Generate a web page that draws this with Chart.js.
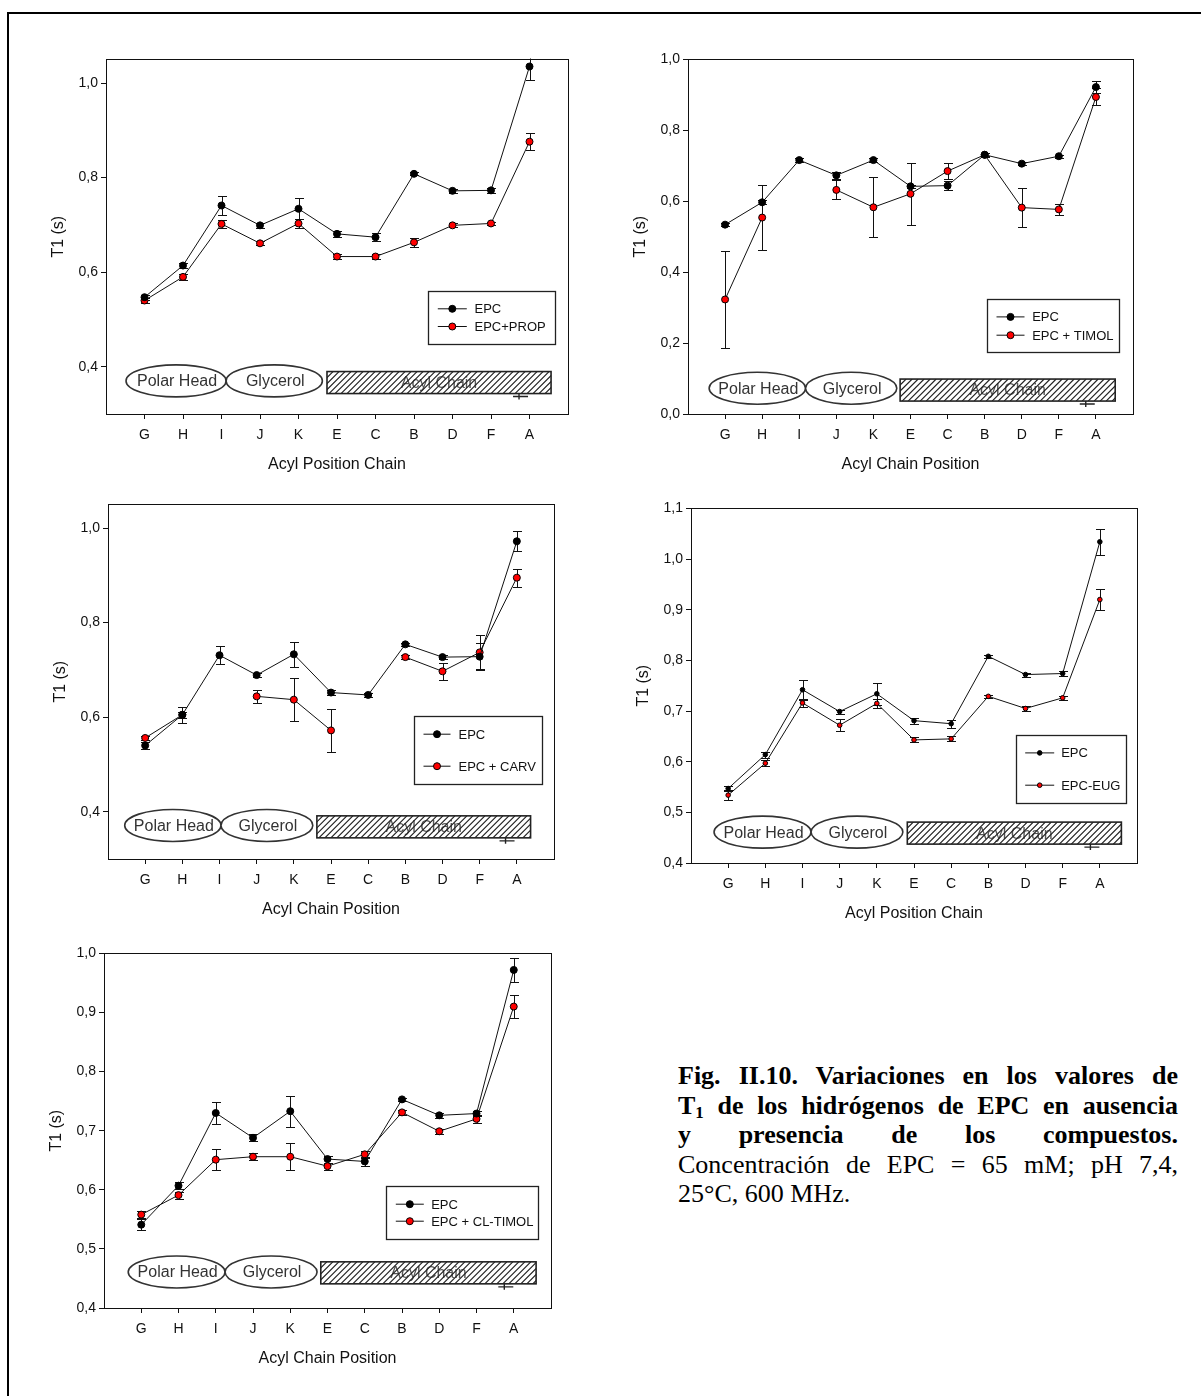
<!DOCTYPE html>
<html>
<head>
<meta charset="utf-8">
<script src="https://cdn.jsdelivr.net/npm/chart.js@4.4.1/dist/chart.umd.min.js"></script>
<style>
  html, body { margin: 0; padding: 0; background: #fff; }
  body { width: 1201px; height: 1396px; position: relative; overflow: hidden; }
  .rule-top { position: absolute; left: 7px; top: 12px; width: 1194px; height: 2px; background: #000; }
  .rule-left { position: absolute; left: 7px; top: 12px; width: 2px; height: 1384px; background: #000; }
  canvas.panel { position: absolute; }
  .caption { position: absolute; font-family: "Liberation Serif", "Times New Roman", serif; font-size: 26px; color: #000; }
  .caption .ln { height: 29.5px; line-height: 29.5px; white-space: normal; }
  .caption .jf { text-align: justify; text-align-last: justify; }
  .caption sub { font-size: 65%; line-height: 0; vertical-align: -0.25em; }
</style>
</head>
<body>
<div class="rule-top"></div>
<div class="rule-left"></div>

<canvas id="cProp" class="panel" width="532" height="431" style="left:46px;top:48px;"></canvas>
<canvas id="cTimol" class="panel" width="515" height="431" style="left:628px;top:48px;"></canvas>
<canvas id="cCarv" class="panel" width="516" height="431" style="left:48px;top:493px;"></canvas>
<canvas id="cEug" class="panel" width="516" height="431" style="left:631px;top:497px;"></canvas>
<canvas id="cClTimol" class="panel" width="517" height="431" style="left:44px;top:942px;"></canvas>

<div class="caption" style="left:678px;top:1061px;width:500px;">
  <div class="ln jf"><b>Fig. II.10. Variaciones en los valores de</b></div>
  <div class="ln jf"><b>T<sub>1</sub> de los hidrógenos de EPC en ausencia</b></div>
  <div class="ln jf"><b>y presencia de los compuestos.</b></div>
  <div class="ln jf">Concentración de EPC = 65 mM; pH 7,4,</div>
  <div class="ln">25°C, 600 MHz.</div>
</div>

<script>
// Proton positions along the EPC molecule
const positionLabels = ['G', 'H', 'I', 'J', 'K', 'E', 'C', 'B', 'D', 'F', 'A'];

// T1 (s): EPC alone vs EPC + PROP
const epcProp = [0.547, 0.614, 0.741, 0.699, 0.734, 0.681, 0.674, 0.808, 0.772, 0.773, 1.035];
const epcPropErr = [0.005, 0.006, 0.020, 0.005, 0.022, 0.006, 0.008, 0.003, 0.004, 0.005, 0.029];
const propT1 = [0.540, 0.590, 0.702, 0.661, 0.703, 0.633, 0.633, 0.663, 0.699, 0.703, 0.876];
const propT1Err = [0.006, 0.006, 0.008, 0.004, 0.009, 0.005, 0.005, 0.010, 0.004, 0.004, 0.018];

// T1 (s): EPC alone vs EPC + TIMOL
const epcTimol = [0.534, 0.597, 0.716, 0.673, 0.716, 0.642, 0.644, 0.731, 0.706, 0.727, 0.922];
const epcTimolErr = [0.005, 0.006, 0.005, 0.010, 0.006, 0.005, 0.012, 0.004, 0.004, 0.004, 0.018];
const timolT1 = [0.323, 0.554, null, 0.632, 0.583, 0.621, 0.685, 0.731, 0.582, 0.577, 0.894];
const timolT1Err = [0.137, 0.092, null, 0.027, 0.085, 0.088, 0.022, 0.006, 0.054, 0.015, 0.024];

// T1 (s): EPC alone vs EPC + CARV
const epcCarv = [0.540, 0.605, 0.731, 0.689, 0.733, 0.652, 0.647, 0.754, 0.727, 0.728, 0.972];
const epcCarvErr = [0.007, 0.017, 0.019, 0.005, 0.026, 0.005, 0.005, 0.003, 0.004, 0.028, 0.021];
const carvT1 = [0.556, 0.605, null, 0.644, 0.637, 0.572, null, 0.727, 0.697, 0.737, 0.895];
const carvT1Err = [0.005, 0.006, null, 0.014, 0.045, 0.045, null, 0.004, 0.018, 0.036, 0.019];

// T1 (s): EPC alone vs EPC-EUG
const epcEug = [0.547, 0.614, 0.742, 0.699, 0.734, 0.681, 0.675, 0.808, 0.772, 0.774, 1.034];
const epcEugErr = [0.005, 0.006, 0.020, 0.004, 0.022, 0.006, 0.008, 0.003, 0.004, 0.005, 0.026];
const eugT1 = [0.534, 0.597, 0.716, 0.672, 0.715, 0.643, 0.645, 0.729, 0.705, 0.726, 0.920];
const eugT1Err = [0.010, 0.006, 0.008, 0.012, 0.009, 0.005, 0.005, 0.003, 0.004, 0.004, 0.020];

// T1 (s): EPC alone vs EPC + CL-TIMOL
const epcClTimol = [0.541, 0.607, 0.730, 0.688, 0.733, 0.652, 0.648, 0.753, 0.726, 0.729, 0.972];
const epcClTimolErr = [0.009, 0.006, 0.019, 0.006, 0.026, 0.006, 0.008, 0.003, 0.004, 0.004, 0.021];
const clTimolT1 = [0.558, 0.591, 0.651, 0.656, 0.656, 0.640, 0.660, 0.731, 0.699, 0.720, 0.910];
const clTimolT1Err = [0.006, 0.006, 0.018, 0.006, 0.023, 0.006, 0.006, 0.004, 0.004, 0.007, 0.020];

// Y tick values per panel
const ticksProp = [0.4, 0.6, 0.8, 1.0];
const ticksTimol = [0.0, 0.2, 0.4, 0.6, 0.8, 1.0];
const ticksCarv = [0.4, 0.6, 0.8, 1.0];
const ticksEug = [0.4, 0.5, 0.6, 0.7, 0.8, 0.9, 1.0, 1.1];
const ticksClTimol = [0.4, 0.5, 0.6, 0.7, 0.8, 0.9, 1.0];

const FONT = '"Liberation Sans", Arial, sans-serif';
Chart.defaults.font.family = FONT;
Chart.defaults.color = '#111';

// Vertical error bars with caps, drawn under the markers
const errorBarPlugin = {
  id: 'errorBars',
  beforeDatasetsDraw(chart) {
    const { ctx, chartArea: a, scales: { y } } = chart;
    ctx.save();
    ctx.beginPath();
    ctx.rect(a.left, a.top - 1, a.right - a.left, a.bottom - a.top + 1);
    ctx.clip();
    ctx.strokeStyle = '#111';
    ctx.lineWidth = 1;
    chart.data.datasets.forEach((ds, di) => {
      const meta = chart.getDatasetMeta(di);
      (ds.errorBars || []).forEach((e, i) => {
        const v = ds.data[i].y;
        if (v == null || e == null) return;
        const px = Math.round(meta.data[i].x) + 0.5;
        const yt = Math.round(y.getPixelForValue(v + e)) + 0.5;
        const yb = Math.round(y.getPixelForValue(v - e)) + 0.5;
        const cap = 4.5;
        ctx.beginPath();
        ctx.moveTo(px, yt); ctx.lineTo(px, yb);
        ctx.moveTo(px - cap, yt); ctx.lineTo(px + cap, yt);
        ctx.moveTo(px - cap, yb); ctx.lineTo(px + cap, yb);
        ctx.stroke();
      });
    });
    ctx.restore();
  }
};

// Closed frame around the plotting area
const framePlugin = {
  id: 'frame',
  beforeDatasetsDraw(chart) {
    const { ctx, chartArea: a } = chart;
    ctx.save();
    ctx.strokeStyle = '#111';
    ctx.lineWidth = 1;
    ctx.strokeRect(Math.round(a.left) + 0.5, Math.round(a.top) + 0.5,
      Math.round(a.right - a.left), Math.round(a.bottom - a.top));
    ctx.restore();
  }
};

// Molecule sketch along the bottom: polar head, glycerol, hatched acyl chain
const regionsPlugin = {
  id: 'regions',
  beforeDatasetsDraw(chart, args, o) {
    const { ctx, scales: { x, y } } = chart;
    const ey = y.getPixelForValue(o.ellipseY);
    const ry = y.getPixelForValue(o.rectY);
    ctx.save();
    ctx.font = '16px ' + FONT;
    ctx.textAlign = 'center';
    ctx.textBaseline = 'middle';
    const oval = (span, label) => {
      const x0 = x.getPixelForValue(span[0]), x1 = x.getPixelForValue(span[1]);
      ctx.beginPath();
      ctx.ellipse((x0 + x1) / 2, ey, (x1 - x0) / 2, 16, 0, 0, Math.PI * 2);
      ctx.fillStyle = '#fff';
      ctx.fill();
      ctx.lineWidth = 1.6;
      ctx.strokeStyle = '#333';
      ctx.stroke();
      ctx.fillStyle = '#333';
      ctx.fillText(label, (x0 + x1) / 2 + 1, ey + 1);
    };
    oval(o.polar, 'Polar Head');
    oval(o.glycerol, 'Glycerol');

    const ax0 = x.getPixelForValue(o.acyl[0]), ax1 = x.getPixelForValue(o.acyl[1]);
    const rh = 22, top = ry - rh / 2;
    ctx.fillStyle = '#fff';
    ctx.fillRect(ax0, top, ax1 - ax0, rh);
    ctx.fillStyle = '#555';
    ctx.fillText('Acyl Chain', (ax0 + ax1) / 2, ry + 1);
    ctx.save();
    ctx.beginPath();
    ctx.rect(ax0, top, ax1 - ax0, rh);
    ctx.clip();
    ctx.beginPath();
    for (let sx = ax0 - rh; sx < ax1 + rh; sx += 6) {
      ctx.moveTo(sx, top + rh);
      ctx.lineTo(sx + rh, top);
    }
    ctx.strokeStyle = '#222';
    ctx.lineWidth = 1.2;
    ctx.stroke();
    ctx.restore();
    ctx.lineWidth = 1.6;
    ctx.strokeStyle = '#222';
    ctx.strokeRect(ax0, top, ax1 - ax0, rh);

    // small arrow mark under the chain end
    const mx = x.getPixelForValue(o.mark), my = top + rh + 3;
    ctx.beginPath();
    ctx.moveTo(mx - 8, my); ctx.lineTo(mx + 7, my);
    ctx.moveTo(mx - 2, top + rh); ctx.lineTo(mx - 2, my + 3);
    ctx.lineWidth = 1.4;
    ctx.stroke();
    ctx.restore();
  }
};

// Boxed legend inside the plotting area
const boxLegendPlugin = {
  id: 'boxLegend',
  afterDatasetsDraw(chart, args, o) {
    const { ctx, chartArea: a } = chart;
    const bx = Math.round(a.right - o.right - o.width) + 0.5;
    const by = Math.round(a.bottom - o.bottom - o.height) + 0.5;
    ctx.save();
    ctx.fillStyle = '#fff';
    ctx.fillRect(bx, by, o.width, o.height);
    ctx.strokeStyle = '#222';
    ctx.lineWidth = 1.3;
    ctx.strokeRect(bx, by, o.width, o.height);
    chart.data.datasets.forEach((ds, i) => {
      const yy = by + o.rows[i];
      const lx = bx + o.lineX;
      ctx.beginPath();
      ctx.moveTo(lx, yy); ctx.lineTo(lx + o.lineLen, yy);
      ctx.strokeStyle = ds.borderColor;
      ctx.lineWidth = 1;
      ctx.stroke();
      ctx.beginPath();
      ctx.arc(lx + o.lineLen / 2, yy, ds.pointRadius, 0, Math.PI * 2);
      ctx.fillStyle = ds.pointBackgroundColor;
      ctx.fill();
      ctx.strokeStyle = '#000';
      ctx.lineWidth = 1;
      ctx.stroke();
      ctx.fillStyle = '#111';
      ctx.font = '13px ' + FONT;
      ctx.textAlign = 'left';
      ctx.textBaseline = 'middle';
      ctx.fillText(ds.label, bx + o.textX, yy + 1);
    });
    ctx.restore();
  }
};

const toPoints = (vals) => vals.map((v, i) => ({ x: i, y: v }));
const fmtTick = (v) => Number(v).toFixed(1).replace('.', ',');

function makePanel(id, p) {
  const series = (label, vals, errs, fill) => ({
    label,
    data: toPoints(vals),
    errorBars: errs,
    borderColor: '#111',
    borderWidth: 1,
    pointBackgroundColor: fill,
    pointBorderColor: '#000',
    pointBorderWidth: 1,
    pointRadius: p.radius,
    pointHoverRadius: p.radius,
    spanGaps: false,
    tension: 0,
    fill: false
  });
  return new Chart(document.getElementById(id), {
    type: 'line',
    data: {
      datasets: [
        series('EPC', p.base, p.baseErr, '#000'),
        series(p.name, p.drug, p.drugErr, '#ff0000')
      ]
    },
    options: {
      responsive: false,
      animation: false,
      devicePixelRatio: 1,
      layout: { padding: { top: 10, right: 10, left: 0, bottom: 0 } },
      plugins: {
        legend: { display: false },
        tooltip: { enabled: false },
        regions: p.regions,
        boxLegend: p.legend
      },
      scales: {
        x: {
          type: 'linear',
          min: -1,
          max: 11,
          afterFit: (s) => { s.height = 65; },
          afterBuildTicks: (s) => { s.ticks = positionLabels.map((_, i) => ({ value: i })); },
          ticks: {
            callback: (v) => positionLabels[v],
            autoSkip: false,
            maxRotation: 0,
            padding: 8,
            color: '#111',
            font: { size: 14 }
          },
          grid: { display: true, drawOnChartArea: false, drawTicks: true, tickLength: 5, color: '#111' },
          border: { display: true, color: '#111', width: 1 },
          title: { display: true, text: p.xTitle, color: '#111', font: { size: 16 }, padding: { top: 0, bottom: 5 } }
        },
        y: {
          min: p.yMin,
          max: p.yMax,
          afterFit: (s) => { s.width = 60; },
          afterBuildTicks: (s) => { s.ticks = p.yTicks.map((v) => ({ value: v })); },
          ticks: { callback: fmtTick, padding: 3, color: '#111', font: { size: 14 } },
          grid: { display: true, drawOnChartArea: false, drawTicks: true, tickLength: 5, color: '#111' },
          border: { display: true, color: '#111', width: 1 },
          title: { display: true, text: 'T1 (s)', color: '#111', font: { size: 16 }, padding: { top: 3, bottom: 0 } }
        }
      }
    },
    plugins: [framePlugin, errorBarPlugin, regionsPlugin, boxLegendPlugin]
  });
}

makePanel('cProp', {
  name: 'EPC+PROP', base: epcProp, baseErr: epcPropErr, drug: propT1, drugErr: propT1Err,
  yMin: 0.3, yMax: 1.05, yTicks: ticksProp, radius: 3.5, xTitle: 'Acyl Position Chain',
  regions: { ellipseY: 0.370, rectY: 0.3665, polar: [-0.48, 2.12], glycerol: [2.12, 4.62], acyl: [4.74, 10.56], mark: 9.78 },
  legend: { width: 127, height: 53, right: 12.6, bottom: 69.7, lineX: 9.3, lineLen: 29, textX: 46, rows: [17.3, 35] }
});

makePanel('cTimol', {
  name: 'EPC + TIMOL', base: epcTimol, baseErr: epcTimolErr, drug: timolT1, drugErr: timolT1Err,
  yMin: 0, yMax: 1.0, yTicks: ticksTimol, radius: 3.5, xTitle: 'Acyl Chain Position',
  regions: { ellipseY: 0.0725, rectY: 0.0675, polar: [-0.43, 2.17], glycerol: [2.17, 4.63], acyl: [4.72, 10.52], mark: 9.78 },
  legend: { width: 132, height: 53, right: 14.3, bottom: 61.7, lineX: 9, lineLen: 28, textX: 44.7, rows: [17.4, 35.7] }
});

makePanel('cCarv', {
  name: 'EPC + CARV', base: epcCarv, baseErr: epcCarvErr, drug: carvT1, drugErr: carvT1Err,
  yMin: 0.3, yMax: 1.05, yTicks: ticksCarv, radius: 3.5, xTitle: 'Acyl Chain Position',
  regions: { ellipseY: 0.371, rectY: 0.368, polar: [-0.55, 2.04], glycerol: [2.04, 4.51], acyl: [4.62, 10.37], mark: 9.75 },
  legend: { width: 128, height: 68, right: 11.6, bottom: 75, lineX: 9, lineLen: 27, textX: 44, rows: [17.7, 49.7] }
});

makePanel('cEug', {
  name: 'EPC-EUG', base: epcEug, baseErr: epcEugErr, drug: eugT1, drugErr: eugT1Err,
  yMin: 0.4, yMax: 1.1, yTicks: ticksEug, radius: 2.3, xTitle: 'Acyl Position Chain',
  regions: { ellipseY: 0.461, rectY: 0.459, polar: [-0.38, 2.23], glycerol: [2.23, 4.70], acyl: [4.82, 10.58], mark: 9.8 },
  legend: { width: 110, height: 68, right: 11, bottom: 60, lineX: 8.7, lineLen: 29, textX: 44.7, rows: [17.4, 49.7] }
});

makePanel('cClTimol', {
  name: 'EPC + CL-TIMOL', base: epcClTimol, baseErr: epcClTimolErr, drug: clTimolT1, drugErr: clTimolT1Err,
  yMin: 0.4, yMax: 1.0, yTicks: ticksClTimol, radius: 3.5, xTitle: 'Acyl Chain Position',
  regions: { ellipseY: 0.461, rectY: 0.4595, polar: [-0.35, 2.25], glycerol: [2.25, 4.72], acyl: [4.82, 10.6], mark: 9.8 },
  legend: { width: 152, height: 53, right: 12.7, bottom: 69.4, lineX: 9.3, lineLen: 28, textX: 44.7, rows: [17.7, 34.7] }
});
</script>
</body>
</html>
